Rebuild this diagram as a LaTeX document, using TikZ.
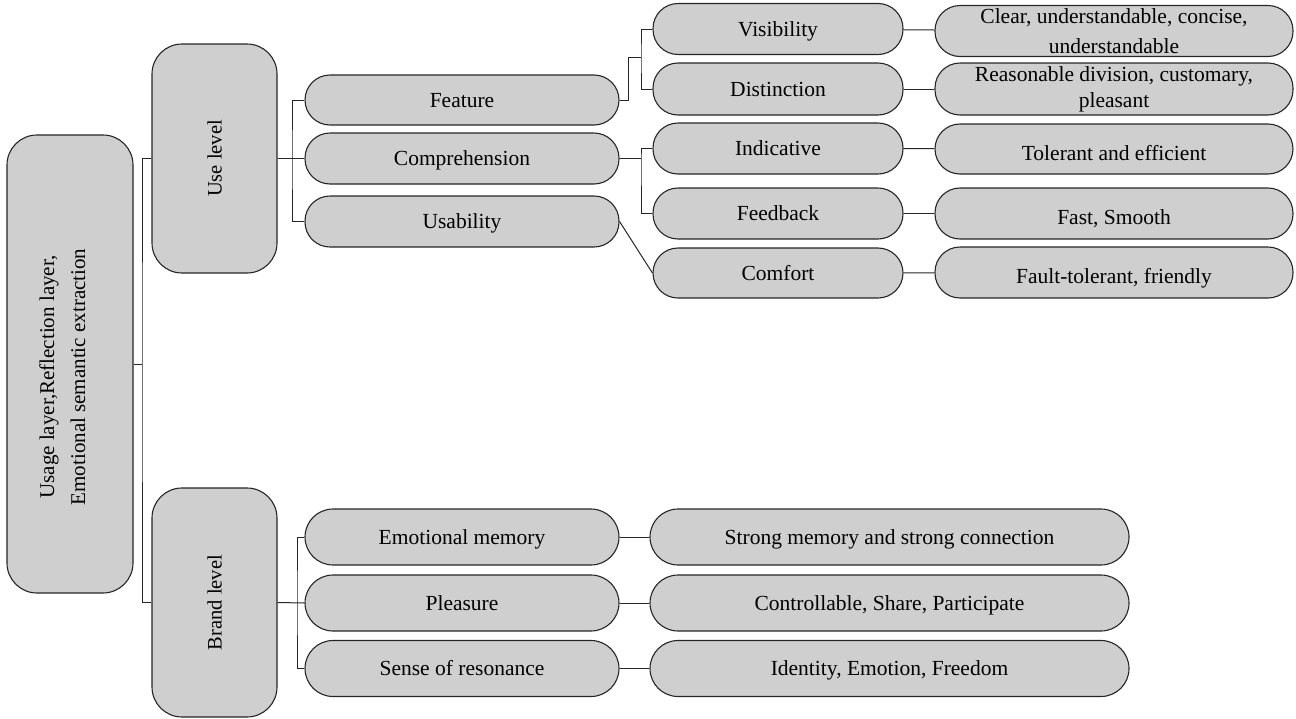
\documentclass[tikz,border=0pt]{standalone}
\usepackage{fontspec}
\setmainfont{Liberation Serif}
\begin{document}
\begin{tikzpicture}[x=1pt,y=-1pt,
  box/.style={draw=black!85,line width=1.1pt,fill=black!19,inner sep=0pt,
    font=\fontsize{21.5}{27}\selectfont,align=center},
  pill/.style={box,rounded corners=25pt,minimum height=51pt},
  oneline/.style={pill,text height=16pt,text depth=2pt},
  lowline/.style={pill,text height=22pt,text depth=0pt},
  wide/.style={oneline,minimum height=56pt,rounded corners=28pt},
  tall/.style={box,rounded corners=30pt,minimum width=125pt,minimum height=229pt,
    font=\fontsize{20.5}{27}\selectfont},
  link/.style={draw=black!85,line width=1pt}]
\useasboundingbox (0,0) rectangle (1296,718);

% root and the two levels
\node[tall,minimum width=126pt,minimum height=458pt,
  font=\fontsize{21}{31}\selectfont] (root) at (70,364)
  {\rotatebox{90}{\raisebox{1.5pt}[0pt][0pt]{\makebox[0pt][c]{\kern-26pt\begin{tabular}{@{}c@{}}Usage layer,Reflection layer,\\Emotional semantic extraction\end{tabular}}}}};
\node[tall] (use) at (214.5,158.5) {\rotatebox{90}{Use level}};
\node[tall] (brand) at (214.5,602.5) {\rotatebox{90}{Brand level}};

% use level, second column
\node[oneline,minimum width=314pt,minimum height=50pt] (feature) at (462,100) {Feature};
\node[oneline,minimum width=314pt] (compr) at (462,158.5) {Comprehension};
\node[oneline,minimum width=314pt] (usab) at (462,221.5) {Usability};

% use level, third column
\node[oneline,minimum width=250pt] (vis) at (778,29) {Visibility};
\node[oneline,minimum width=250pt,minimum height=52pt] (dist) at (778,89) {Distinction};
\node[oneline,minimum width=250pt] (ind) at (778,148.5) {Indicative};
\node[oneline,minimum width=250pt] (feed) at (778,213.5) {Feedback};
\node[oneline,minimum width=250pt,minimum height=50pt] (comf) at (778,273) {Comfort};

% use level, fourth column
\node[pill,minimum width=358pt,font=\fontsize{21.5}{30}\selectfont] (clear) at (1114,31)
  {Clear, understandable, concise,\\understandable};
\node[pill,minimum width=358pt,minimum height=52pt,font=\fontsize{21.5}{26}\selectfont] (reas) at (1114,89)
  {Reasonable division, customary,\\pleasant};
\node[lowline,minimum width=358pt,minimum height=50pt] (tol) at (1114,149) {Tolerant and efficient};
\node[lowline,minimum width=358pt] (fast) at (1114,213.5) {Fast, Smooth};
\node[lowline,minimum width=358pt] (fault) at (1114,272.5) {Fault-tolerant, friendly};

% brand level
\node[wide,minimum width=314pt] (emo) at (462,537) {Emotional memory};
\node[wide,minimum width=314pt] (plea) at (462,603) {Pleasure};
\node[wide,minimum width=314pt] (reso) at (462,668.5) {Sense of resonance};
\node[wide,minimum width=479pt] (emoc) at (889.5,537) {Strong memory and strong connection};
\node[wide,minimum width=479pt] (pleac) at (889.5,603) {Controllable, Share, Participate};
\node[wide,minimum width=479pt] (resoc) at (889.5,668.5) {Identity, Emotion, Freedom};

% bus coordinates
\coordinate (rb) at (142,364);
\coordinate (ub) at (292,158.5);
\coordinate (fk) at (628,57);
\coordinate (fb) at (641,57);
\coordinate (cb) at (641,158.5);
\coordinate (bb) at (297,603);

% connectors
\draw[link] (root.east) -- (rb);
\draw[link] (use.west) -| (rb) |- (brand.west);
\draw[link] (use.east) -- (compr.west);
\draw[link] (feature.west) -| (ub) |- (usab.west);
\draw[link] (feature.east) -| (fk) -- (fb);
\draw[link] (vis.west) -| (fb) |- (dist.west);
\draw[link] (compr.east) -- (cb);
\draw[link] (ind.west) -| (cb) |- (feed.west);
\draw[link] (usab.east) -- (comf.west);
\draw[link] (vis) -- (clear);
\draw[link] (dist) -- (reas);
\draw[link] (ind) -- (tol);
\draw[link] (feed) -- (fast);
\draw[link] (comf) -- (fault);
\draw[link] (brand.east) -- (plea.west);
\draw[link] (emo.west) -| (bb) |- (reso.west);
\draw[link] (emo) -- (emoc);
\draw[link] (plea) -- (pleac);
\draw[link] (reso) -- (resoc);
\end{tikzpicture}
\end{document}
